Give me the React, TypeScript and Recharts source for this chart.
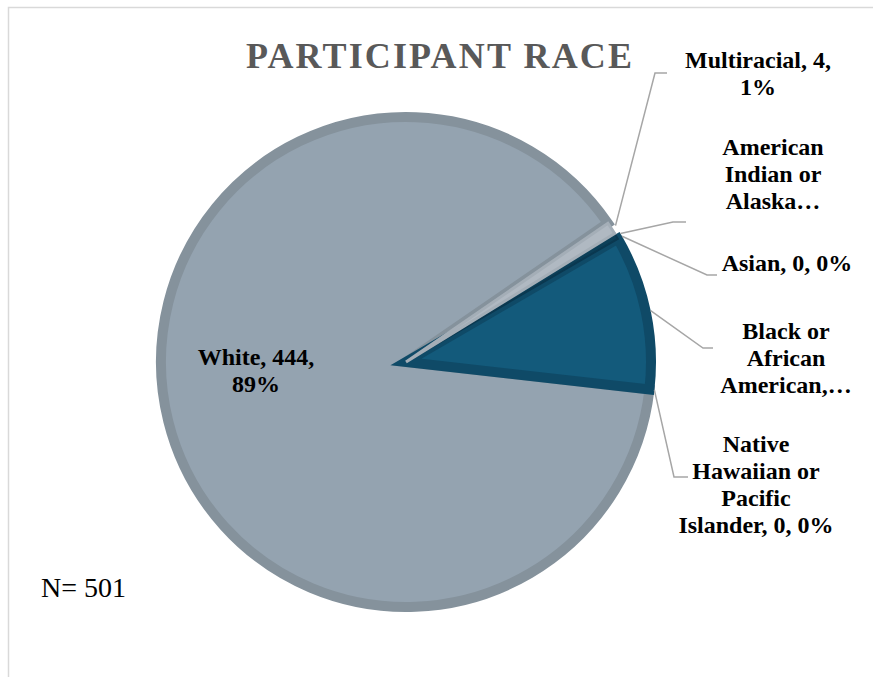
import React from 'react';
import { PieChart, Pie, Cell } from 'recharts';

// slices in drawing order (counter-clockwise from the top-right edge of the white slice)
const categories = [
  'White',
  'Native Hawaiian or Pacific Islander',
  'Black or African American',
  'Asian',
  'American Indian or Alaska Native',
  'Multiracial',
];
const counts = [444, 0, 51, 0, 2, 4];
const total = 501;

// label text as Excel wrapped / truncated it
const labelLines = [
  ['White, 444,', '89%'],
  ['Native', 'Hawaiian or', 'Pacific', 'Islander, 0, 0%'],
  ['Black or', 'African', 'American,…'],
  ['Asian, 0, 0%'],
  ['American', 'Indian or', 'Alaska…'],
  ['Multiracial, 4,', '1%'],
];

const fills = ['#94a3b0', '#2b5f78', '#135a7b', '#1b5674', '#0c3f58', '#b0b9c2'];
const strokes = ['#85929c', '#2b5f78', '#0f4a67', '#1b5674', '#0a3850', '#a4aeb7'];
const strokeWidths = [10, 0, 10, 0, 2, 3];

// where each label sits (first baseline, center x) and where its leader line bends
const labelLayout: { x: number; y: number; bend?: [number, number]; end?: [number, number] }[] = [
  { x: 256, y: 365 },
  { x: 756, y: 452, bend: [674, 477], end: [688, 477] },
  { x: 786, y: 339, bend: [703, 348], end: [713, 348] },
  { x: 787, y: 271, bend: [707, 275], end: [717, 275] },
  { x: 773, y: 155, bend: [673, 222], end: [686, 222] },
  { x: 758, y: 68, bend: [655, 73], end: [667, 73] },
];

const data = categories.map((name, i) => ({ name, value: counts[i] }));

const RADIAN = Math.PI / 180;
const FONT = '"Liberation Serif", "Times New Roman", serif';

const renderLabel = (props: any) => {
  const { cx, cy, midAngle, outerRadius, index } = props;
  const lay = labelLayout[index];
  const lines = labelLines[index];
  let leader = null;
  if (lay.bend && lay.end) {
    const r = outerRadius + 5;
    const sx = cx + r * Math.cos(-midAngle * RADIAN);
    const sy = cy + r * Math.sin(-midAngle * RADIAN);
    leader = (
      <polyline
        points={`${sx},${sy} ${lay.bend[0]},${lay.bend[1]} ${lay.end[0]},${lay.end[1]}`}
        fill="none"
        stroke="#a6a6a6"
        strokeWidth={1.5}
      />
    );
  }
  return (
    <g key={`lbl-${index}`}>
      {leader}
      <text
        x={lay.x}
        y={lay.y}
        textAnchor="middle"
        fontFamily={FONT}
        fontWeight="bold"
        fontSize={24}
        fill="#000"
      >
        {lines.map((ln, j) => (
          <tspan key={j} x={lay.x} dy={j === 0 ? 0 : 27}>
            {ln}
          </tspan>
        ))}
      </text>
    </g>
  );
};

export default function App() {
  return (
    <div style={{ position: 'absolute', left: 0, top: 0, width: 873, height: 677, background: '#fff' }}>
      <svg width={873} height={677} style={{ position: 'absolute', left: 0, top: 0 }}>
        <rect x={8.5} y={7.5} width={900} height={700} fill="#fff" stroke="#d9d9d9" strokeWidth={1.5} />
        <text
          x={439}
          y={68}
          textAnchor="middle"
          fontFamily={FONT}
          fontWeight="bold"
          fontSize={36}
          fill="#595959"
          textLength={386}
          lengthAdjust="spacing"
        >
          PARTICIPANT RACE
        </text>
        <text x={41} y={597} fontFamily={FONT} fontSize={28} fill="#000">
          N= {total}
        </text>
      </svg>
      <div style={{ position: 'absolute', left: 0, top: 0 }}>
        <PieChart width={873} height={677}>
          <Pie
            data={data}
            dataKey="value"
            nameKey="name"
            cx={401}
            cy={357}
            outerRadius={245}
            startAngle={34.5}
            endAngle={394.5}
            strokeLinejoin="miter"
            label={renderLabel}
            labelLine={false}
            isAnimationActive={false}
          >
            {data.map((d, i) => (
              <Cell key={d.name} fill={fills[i]} stroke={strokes[i]} strokeWidth={strokeWidths[i]} />
            ))}
          </Pie>
        </PieChart>
      </div>
    </div>
  );
}
